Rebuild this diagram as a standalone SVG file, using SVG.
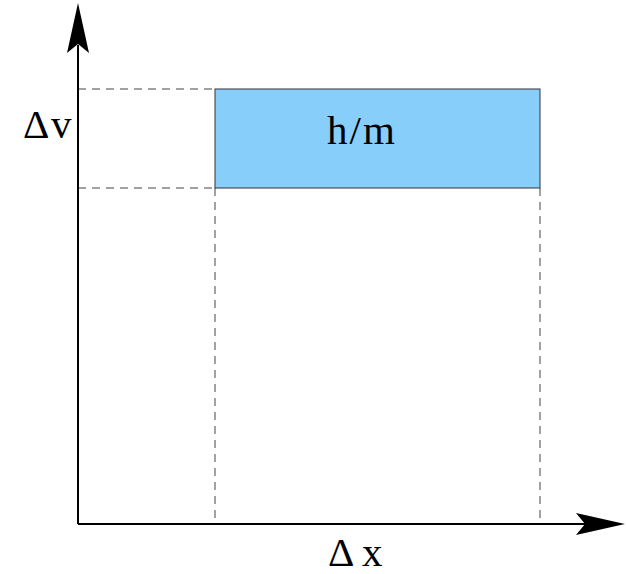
<svg xmlns="http://www.w3.org/2000/svg" width="626" height="574" viewBox="0 0 626 574">
<style>
.axis{stroke:#000;stroke-width:2;fill:none}
.dash{stroke:#444;stroke-width:1;stroke-dasharray:8,6;fill:none}
.lbl{font-family:"Liberation Serif",serif;font-size:41px;fill:#000}
</style>
<rect width="626" height="574" fill="#fff"/>
<g id="connectors">
<line class="dash" x1="78" y1="89" x2="215" y2="89"/>
<line class="dash" x1="78" y1="188" x2="215" y2="188"/>
<line class="dash" x1="215" y1="188" x2="215" y2="524"/>
<line class="dash" x1="540" y1="188" x2="540" y2="524"/>
<line class="axis" x1="78" y1="524" x2="78" y2="45"/>
<line class="axis" x1="78" y1="524" x2="585" y2="524"/>
<path d="M78,3 L89,53 L78,44 L67,53 Z" fill="#000"/>
<path d="M625,524 L576,535 L585,524 L576,513 Z" fill="#000"/>
</g>
<g id="box">
<rect x="215" y="89" width="325" height="99" fill="#87cefa" stroke="#333" stroke-width="1"/>
<text class="lbl" x="362" y="144" text-anchor="middle" letter-spacing="2">h/m</text>
</g>
<g id="label-dv"><text class="lbl" x="23" y="138">Δ<tspan x="51">v</tspan></text></g>
<g id="label-dx"><text class="lbl" x="328" y="566">Δ<tspan x="362">x</tspan></text></g>
</svg>
